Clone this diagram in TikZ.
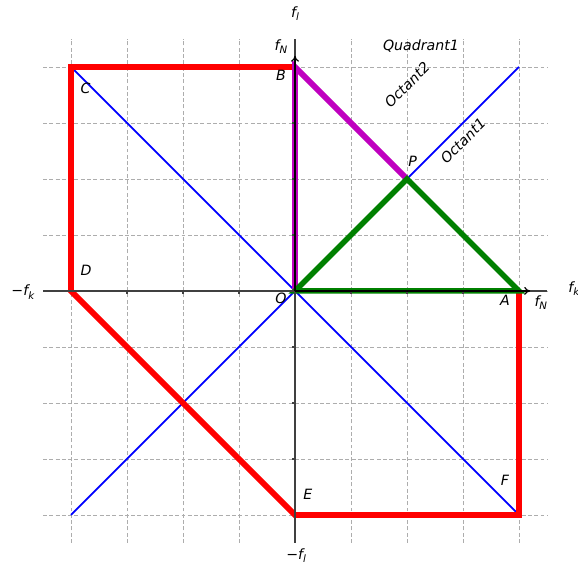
\documentclass[tikz,border=0pt]{standalone}
\usepackage{fontspec}
\setmainfont{DejaVu Sans}
\usetikzlibrary{arrows.meta}
\definecolor{plotred}{RGB}{255,0,0}
\definecolor{plotblue}{RGB}{0,0,255}
\definecolor{plotmag}{RGB}{191,0,191}
\definecolor{plotgreen}{RGB}{0,128,0}
\newcommand{\idx}[1]{\raisebox{-0.45ex}{\fontsize{5.2}{6}\selectfont #1}}
\tikzset{
  gridline/.style={black!32, line width=0.45pt, dash pattern=on 2pt off 1.2pt},
  spine/.style={black!75, line width=0.6pt},
  lbl/.style={font=\fontsize{7.2}{8.6}\selectfont\itshape, inner sep=0pt},
  thickred/.style={plotred, line width=3pt, line join=miter},
}
\begin{document}
\begin{tikzpicture}[font=\fontsize{7.2}{8.6}\selectfont\itshape]
\useasboundingbox (-5.268,-4.875) rectangle (5.054,5.196);

% grid
\foreach \k in {-4,...,4}{
  \draw[gridline] (\k,-4.5) -- (\k,4.5);
  \draw[gridline] (-4.5,\k) -- (4.5,\k);
}

% corner points of the region
\coordinate (O) at (0,0);
\coordinate (A) at (4,0);
\coordinate (B) at (0,4);
\coordinate (C) at (-4,4);
\coordinate (D) at (-4,0);
\coordinate (E) at (0,-4);
\coordinate (F) at (4,-4);
\coordinate (P) at (2,2);
\coordinate (NE) at (4,4);
\coordinate (SW) at (-4,-4);

% octant diagonals
\draw[plotblue, line width=0.9pt] (SW) -- (NE);
\draw[plotblue, line width=0.9pt] (C) -- (F);

% outer boundary
\draw[thickred] (B) -- (C) -- (D) -- (E) -- (F) -- (A);

% octant 2 and octant 1 pieces
\draw[plotmag, line width=3pt] (O) -- (B) -- (P);
\draw[plotgreen, line width=2.8pt, line join=miter] (O) -- (P) -- (A) -- cycle;

% axes (spines with ticks, arrows from the origin)
\draw[spine] (-4.5,0) -- (4.5,0);
\draw[spine] (0,-4.5) -- (0,4.5);
\foreach \t in {-3,-2,-1,1,2,3}{
  \draw[spine] (\t,0) -- (\t,-0.06);
  \draw[spine] (0,\t) -- (-0.06,\t);
}
\coordinate (xtip) at (4.2,0);
\coordinate (ytip) at (0,4.2);
\draw[-{To[length=3pt,width=4pt]}, black, line width=0.6pt] (O) -- (xtip);
\draw[-{To[length=3pt,width=4pt]}, black, line width=0.6pt] (O) -- (ytip);

% labels
\node[lbl] (lA) at (3.75,-0.16) {A};
\node[lbl] (lB) at (-0.25,3.85) {B};
\node[lbl] (lC) at (-3.74,3.61) {C};
\node[lbl] (lD) at (-3.73,0.36) {D};
\node[lbl] (lE) at (0.23,-3.63) {E};
\node[lbl] (lF) at (3.75,-3.39) {F};
\node[lbl] (lO) at (-0.25,-0.14) {O};
\node[lbl] (lP) at (2.1,2.32) {P};
\node[lbl] (quad) at (2.25,4.38) {Quadrant1};
\node[lbl, rotate=45] (oct2) at (2.0,3.68) {Octant2};
\node[lbl, rotate=45] (oct1) at (3.0,2.68) {Octant1};

% axis ends
\node[lbl] (fltop) at (0,4.95) {f\idx{l}};
\node[lbl] (fNtop) at (-0.25,4.36) {f\idx{N}};
\node[lbl] (fNright) at (4.39,-0.21) {f\idx{N}};
\node[lbl] (fkright) at (4.98,0.04) {f\idx{k}};
\node[lbl] (fkleft) at (-4.86,-0.02) {\upshape −\itshape f\idx{k}};
\node[lbl] (flbot) at (0.02,-4.73) {\upshape −\itshape f\idx{l}};
\end{tikzpicture}
\end{document}
